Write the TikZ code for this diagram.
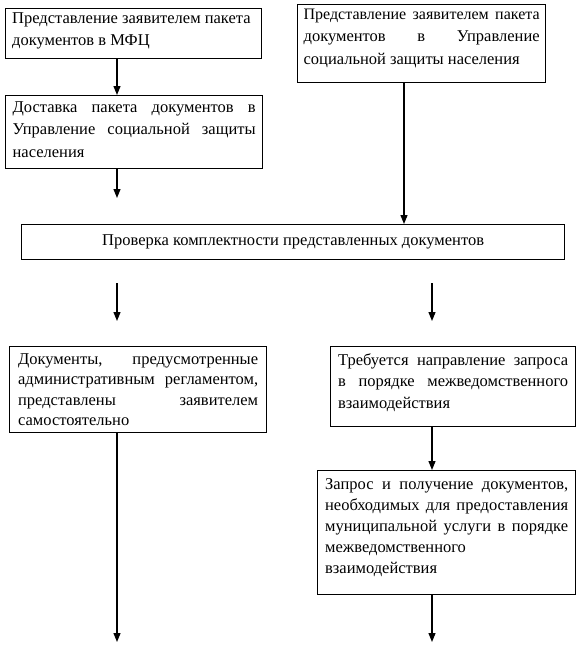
\documentclass[tikz,border=0pt]{standalone}
\usepackage{fontspec}
\setmainfont{Liberation Serif}
\usetikzlibrary{arrows.meta}
\newcommand\jl[1]{\makebox[\linewidth][s]{#1}\par}
\newcommand\bxt[5]{\parbox[c][#1pt][t]{#2pt}{\fontsize{16.5}{#3}\selectfont\vspace*{#4pt}#5}}
\tikzset{
  box/.style={draw, line width=1.3pt, inner sep=0pt, anchor=north west},
  arr/.style={line width=1.2pt, -{Triangle[length=9pt,width=7pt]}},
}
\begin{document}
\begin{tikzpicture}[x=1pt,y=-1pt]
\useasboundingbox (0,0) rectangle (582,648);
% boxes
\node[box, minimum width=256pt] (A) at (5,8) {\bxt{50}{243}{22.5pt}{4}{Представление заявителем пакета\par документов в МФЦ}};
\node[box, minimum width=248pt] (B) at (297,4) {\bxt{78}{236}{22.5pt}{4}{\makebox[\linewidth][s]{\fontsize{16}{22.5pt}\selectfont Представление заявителем пакета}\par\jl{документов в Управление}социальной защиты населения}};
\node[box, minimum width=257pt] (C) at (5,95) {\bxt{73}{243}{22.5pt}{6}{\jl{Доставка пакета документов в}\jl{Управление социальной защиты}населения}};
\node[box, minimum width=543pt, minimum height=35pt, anchor=north west] (D) at (21,224) {\fontsize{16.5}{20}\selectfont Проверка комплектности представленных документов};
\node[box, minimum width=257pt] (E) at (9,346) {\bxt{86}{240}{20.5pt}{7}{\jl{Документы, предусмотренные}\jl{административным регламентом,}\jl{представлены заявителем}самостоятельно}};
\node[box, minimum width=245pt] (F) at (330,346) {\bxt{80}{230}{21.5pt}{7}{\jl{Требуется направление запроса}\jl{в порядке межведомственного}взаимодействия}};
\node[box, minimum width=258pt] (G) at (317,470) {\bxt{124}{243}{21pt}{8}{\jl{Запрос и получение документов,}\jl{необходимых для предоставления}\jl{муниципальной услуги в порядке}межведомственного\par взаимодействия}};
% free ends
\coordinate (xl) at (117,0);
\coordinate (xr) at (432,0);
\coordinate (xb) at (404,0);
\coordinate (c1) at (117,198);
\coordinate (d1s) at (117,283);
\coordinate (d1e) at (117,321);
\coordinate (d2s) at (432,283);
\coordinate (d2e) at (432,321);
\coordinate (e1) at (117,642);
\coordinate (g1) at (432,642);
% connectors
\draw[arr] (A.south -| xl) -- (C.north -| xl);
\draw[arr] (C.south -| xl) -- (c1);
\draw[arr] (B.south -| xb) -- (D.north -| xb);
\draw[arr] (d1s) -- (d1e);
\draw[arr] (d2s) -- (d2e);
\draw[arr] (F.south -| xr) -- (G.north -| xr);
\draw[arr] (G.south -| xr) -- (g1);
\draw[arr] (E.south -| xl) -- (e1);
\end{tikzpicture}
\end{document}
